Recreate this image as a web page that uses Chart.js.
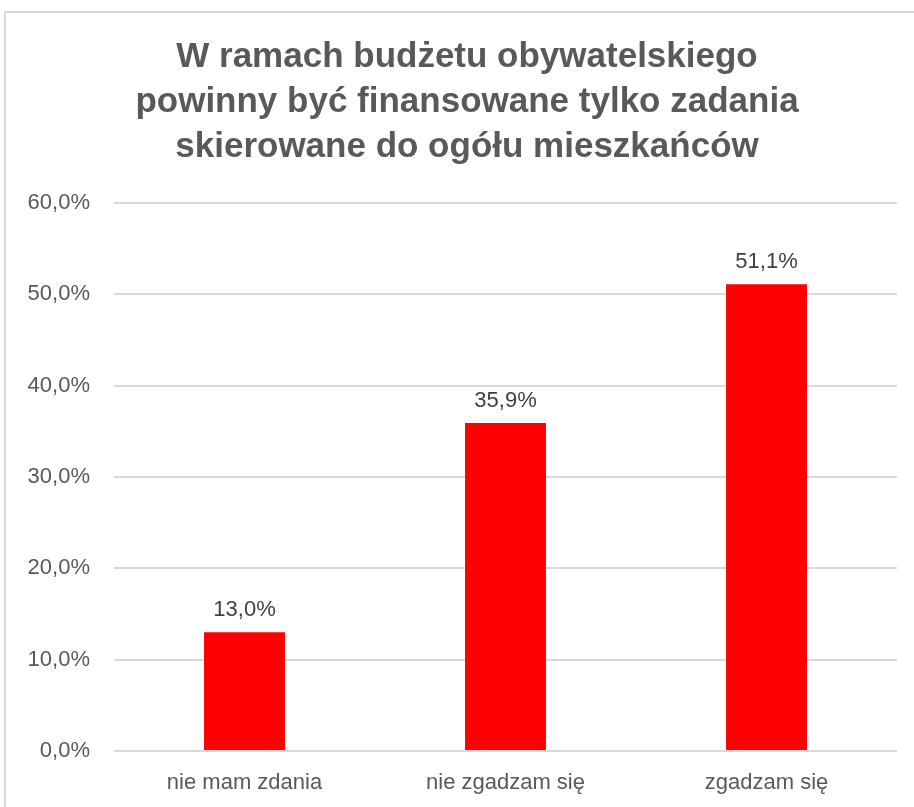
<!DOCTYPE html>
<html>
<head>
<meta charset="utf-8">
<script src="https://cdn.jsdelivr.net/npm/chart.js@4/dist/chart.umd.min.js"></script>
<style>
  body { margin: 0; background: #fff; overflow: hidden; }
  #frame { position: absolute; left: 4px; top: 11px; width: 1000px; height: 1000px; border: 2px solid #d9d9d9; }
  #wrap { position: absolute; left: 0; top: 0; width: 914px; height: 807px; }
</style>
</head>
<body>
<div id="frame"></div>
<div id="wrap"><canvas id="barChart"></canvas></div>
<script>
// ===== DATA =====
const categories = ['nie mam zdania', 'nie zgadzam się', 'zgadzam się'];
const shares = [13.0, 35.9, 51.1];
const yTicks = [0, 10, 20, 30, 40, 50, 60];
const titleLines = [
    'W ramach budżetu obywatelskiego',
    'powinny być finansowane tylko zadania',
    'skierowane do ogółu mieszkańców'
];

const FONT = '"Liberation Sans", Arial, sans-serif';

function pct(v) {
    return v.toFixed(1).replace('.', ',') + '%';
}

// value labels above bars (no datalabels plugin available)
const valueLabels = {
    id: 'valueLabels',
    afterDatasetsDraw(chart) {
        const ctx = chart.ctx;
        const meta = chart.getDatasetMeta(0);
        ctx.save();
        ctx.font = '22px ' + FONT;
        ctx.fillStyle = '#404040';
        ctx.textAlign = 'center';
        ctx.textBaseline = 'bottom';
        meta.data.forEach((bar, i) => {
            ctx.fillText(pct(shares[i]), bar.x, bar.y - 11);
        });
        ctx.restore();
    }
};

// title drawn centred on the frame, not on the chart box
const titleBlock = {
    id: 'titleBlock',
    afterDraw(chart) {
        const ctx = chart.ctx;
        ctx.save();
        ctx.font = 'bold 35px ' + FONT;
        ctx.fillStyle = '#595959';
        ctx.textAlign = 'center';
        ctx.textBaseline = 'alphabetic';
        titleLines.forEach((line, i) => {
            ctx.fillText(line, 467, 67 + i * 45);
        });
        ctx.restore();
    }
};

const ctx = document.getElementById('barChart').getContext('2d');

new Chart(ctx, {
    type: 'bar',
    data: {
        labels: categories,
        datasets: [{
            data: shares,
            backgroundColor: '#ff0000',
            borderWidth: 0,
            categoryPercentage: 1,
            barPercentage: 0.31
        }]
    },
    options: {
        responsive: true,
        maintainAspectRatio: false,
        animation: false,
        layout: {
            padding: { left: 0, right: 17, top: 203, bottom: 0 }
        },
        plugins: {
            legend: { display: false },
            tooltip: { enabled: false },
            title: { display: false }
        },
        scales: {
            x: {
                grid: { display: false },
                border: { display: false },
                ticks: {
                    color: '#595959',
                    padding: 11,
                    font: { family: FONT, size: 22 }
                },
                afterFit(scale) { scale.height = 56; }
            },
            y: {
                min: 0,
                max: 60,
                afterBuildTicks(scale) {
                    scale.ticks = yTicks.map(v => ({ value: v }));
                },
                grid: { color: '#d9d9d9', lineWidth: 2, drawTicks: false },
                border: { display: false },
                ticks: {
                    color: '#595959',
                    padding: 24,
                    font: { family: FONT, size: 22 },
                    callback: v => pct(v)
                },
                afterFit(scale) { scale.width = 114; }
            }
        }
    },
    plugins: [valueLabels, titleBlock]
});
</script>
</body>
</html>
